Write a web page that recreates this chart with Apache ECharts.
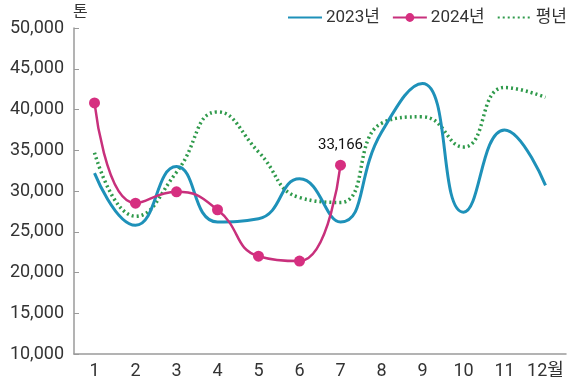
<!DOCTYPE html>
<html>
<head>
<meta charset="utf-8">
<script src="https://cdn.jsdelivr.net/npm/echarts@6/dist/echarts.min.js"></script>
<style>
  html, body { margin: 0; padding: 0; background: #fff; }
  #chart { width: 580px; height: 381px; }
</style>
</head>
<body>
<div id="chart"></div>
<script>
var months = ["1", "2", "3", "4", "5", "6", "7", "8", "9", "10", "11", "12월"];
var y2023 = [32200, 25800, 33000, 26200, 26600, 31500, 26200, 37200, 43200, 27400, 37500, 30700];
var y2024 = [40800, 28500, 29900, 27700, 22000, 21400, 33166];
var normal = [34700, 26900, 32300, 39700, 34800, 29200, 28600, 38300, 39100, 35400, 42700, 41500];
var yTicks = [10000, 50000, 5000];

var font = "Roboto, 'Noto Sans CJK KR', sans-serif";
var chart = echarts.init(document.getElementById("chart"));
var option = {
  animation: false,
  textStyle: { fontFamily: font },
  grid: { left: 74, right: 14, top: 28, bottom: 27 },
  legend: {
    right: 8,
    top: 4,
    itemWidth: 34,
    itemHeight: 11,
    itemGap: 12,
    textStyle: { fontSize: 17, color: "#333", fontFamily: font, padding: [0, 0, 0, -1] },
    data: [
      { name: "2023년", itemStyle: { opacity: 0 } },
      { name: "2024년" },
      { name: "평년", itemStyle: { opacity: 0 } }
    ]
  },
  xAxis: {
    type: "category",
    data: months,
    boundaryGap: true,
    axisLine: { lineStyle: { color: "#9a9a9a", width: 1.5 } },
    axisTick: { inside: true, length: 4, interval: 0, lineStyle: { color: "#aaa" } },
    axisLabel: { fontSize: 18, color: "#333", margin: 9, interval: 0, fontFamily: font }
  },
  yAxis: {
    type: "value",
    min: yTicks[0],
    max: yTicks[1],
    interval: yTicks[2],
    name: "톤",
    nameLocation: "end",
    nameGap: 7,
    nameTextStyle: { fontSize: 16, color: "#333", align: "left", padding: [0, 0, 0, -1], fontFamily: font },
    axisLine: { show: true, lineStyle: { color: "#9a9a9a", width: 1.5 } },
    axisTick: { show: true, inside: true, length: 5, lineStyle: { color: "#9a9a9a" } },
    splitLine: { show: false },
    axisLabel: {
      fontSize: 18,
      color: "#333",
      margin: 10,
      fontFamily: font,
      formatter: function (v) { return v.toLocaleString("en-US"); }
    }
  },
  series: [
    {
      name: "2023년",
      type: "line",
      data: y2023,
      smooth: 0.5,
      symbol: "none",
      lineStyle: { color: "#1e91b9", width: 3 },
      itemStyle: { color: "#1e91b9" },
      z: 2
    },
    {
      name: "2024년",
      type: "line",
      data: y2024,
      smooth: 0.5,
      symbol: "circle",
      symbolSize: 11,
      lineStyle: { color: "#c8307c", width: 2.5 },
      itemStyle: { color: "#d62f80" },
      label: {
        show: true,
        position: "top",
        distance: 7,
        fontSize: 15,
        color: "#111",
        fontFamily: font,
        formatter: function (p) {
          return p.dataIndex === y2024.length - 1 ? p.value.toLocaleString("en-US") : "";
        }
      },
      z: 3
    },
    {
      name: "평년",
      type: "line",
      data: normal,
      smooth: 0.5,
      symbol: "none",
      lineStyle: { color: "#2f9a4b", width: 3.5, type: [2, 3] },
      itemStyle: { color: "#2f9a4b" },
      z: 1
    }
  ]
};
chart.setOption(option);
</script>
</body>
</html>
